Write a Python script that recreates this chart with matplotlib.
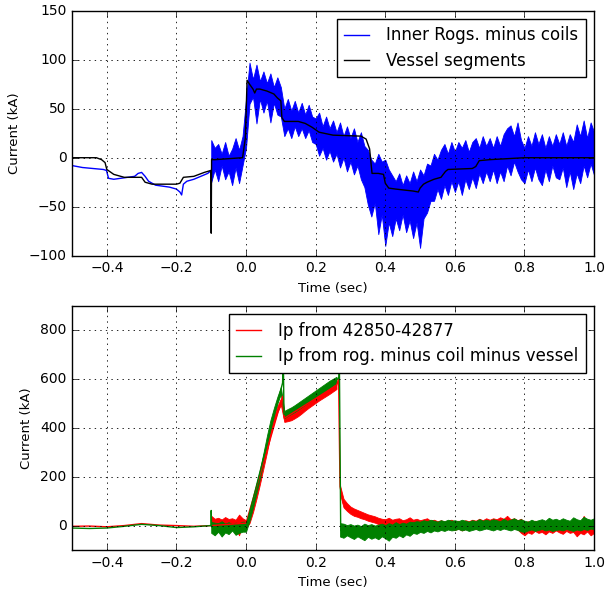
import numpy as np
import matplotlib
matplotlib.use("Agg")
import matplotlib.pyplot as plt

plt.style.use("classic")

# ---------------- data: top panel ----------------
# quiet part of the "Inner Rogs. minus coils" trace
blue_q_t = [-0.50, -0.47, -0.44, -0.41, -0.401, -0.395, -0.38, -0.36, -0.34, -0.32, -0.31, -0.30, -0.29,
            -0.28, -0.26, -0.24, -0.22, -0.20, -0.19, -0.185, -0.18, -0.17, -0.15, -0.13, -0.11, -0.10]
blue_q_i = [-8, -10, -11, -12, -13, -21, -22, -21, -20, -19, -16, -15, -19,
            -24, -28, -29, -30, -32, -35, -38, -27, -24, -22, -19, -16, -13]

# time grid for the noisy parts (-0.10 ... 1.00 s)
t_band = np.round(np.linspace(-0.10, 1.00, 111), 2)

blue_hi = [18, 10, 14, 4, 16, 2, 9, 20, 8, 22,
           60, 97, 80, 95, 78, 88, 76, 86, 72, 82,
           72, 50, 60, 48, 58, 46, 56, 44, 54, 42,
           40, 46, 32, 42, 30, 38, 26, 36, 22, 32,
           20, 30, 16, 26, 12, 8, -2, -6, 4, -4,
           -2, -12, -18, -24, -16, -28, -18, -26, -14, -24,
           -12, -18, -6, -8, 4, -2, 8, 14, 4, 16,
           6, 16, 10, 18, 6, 16, 20, 10, 22, 12,
           20, 10, 22, 12, 24, 30, 33, 22, 36, 18,
           10, 22, 12, 26, 14, 24, 10, 22, 12, 24,
           14, 26, 12, 24, 16, 34, 22, 38, 20, 36, 26]
blue_lo = [-25, -12, -24, -8, -22, -14, -28, -10, -26, -8,
           10, 55, 62, 35, 60, 46, 58, 36, 56, 44,
           42, 22, 30, 20, 32, 22, 30, 20, 28, 16,
           14, 2, 10, -2, 7, -4, 4, -10, 0, -14,
           -4, -17, -8, -22, -30, -48, -60, -46, -78, -58,
           -90, -66, -80, -62, -74, -58, -76, -64, -82, -66,
           -92, -62, -56, -44, -44, -32, -42, -28, -38, -24,
           -35, -24, -38, -22, -32, -20, -31, -16, -26, -14,
           -24, -12, -26, -14, -24, -8, -18, -4, -14, -22,
           -26, -12, -24, -10, -22, -28, -12, -24, -8, -20,
           -22, -10, -30, -14, -32, -16, -26, -8, -20, -6, -18]

vessel_t = [-0.5, -0.43, -0.415, -0.405, -0.40, -0.38, -0.35, -0.30, -0.29, -0.27, -0.20, -0.19,
            -0.18, -0.15, -0.12, -0.101, -0.100, -0.099, -0.09, -0.01, -0.002, 0.003, 0.01,
            0.02, 0.025, 0.03, 0.04, 0.06, 0.08, 0.09, 0.10, 0.103, 0.11, 0.15, 0.17, 0.19,
            0.21, 0.25, 0.33, 0.345, 0.355, 0.362, 0.38, 0.395, 0.40, 0.41, 0.43, 0.48, 0.495,
            0.50, 0.51, 0.52, 0.54, 0.56, 0.573, 0.58, 0.65, 0.66, 0.67, 0.70, 0.80, 1.0]
vessel_i = [0, 0, -2, -5, -12, -17, -20, -20, -25, -27, -27, -26,
            -20, -19, -15, -13, -77, -2, -2, 0, 20, 79, 75,
            70, 66, 70, 70, 68, 65, 61, 58, 41, 37, 37, 35, 31,
            26, 23, 22, 19, 9, -16, -16, -17, -26, -31, -32, -34, -35,
            -31, -27, -25, -22, -20, -14, -12, -11, -9, -3, -2, 0, 0]

# ---------------- data: bottom panel ----------------
red_t = [-0.5, -0.45, -0.4, -0.35, -0.3, -0.25, -0.2, -0.15, -0.1, 0.0, 0.1, 0.105, 0.11,
         0.26, 0.266, 0.27, 0.28]
red_i = [-3, -2, -5, 0, 8, 2, 0, -3, 0, 10, 505, 530, 440,
         575, 600, 160, 90]

red_hi = [40, 28, 32, 25, 35, 27, 30, 24, 45, 30,
          22, 40, 85, 140, 200, 265, 335, 400, 450, 490,
          520, 455, 458, 462, 470, 479, 490, 502, 513, 523,
          533, 543, 552, 561, 570, 580, 590, 165, 110, 92,
          78, 70, 64, 58, 52, 46, 42, 38, 32, 28,
          26, 32, 24, 28, 30, 22, 26, 34, 24, 28,
          22, 26, 30, 20, 24, 18, 22, 16, 20, 24,
          16, 20, 14, 22, 18, 24, 20, 28, 22, 30,
          24, 30, 26, 34, 28, 40, 26, 30, 22, 28,
          12, 18, 8, 20, 14, 10, 16, 8, 14, 10,
          12, 6, 16, 10, 14, 24, 8, 40, 12, 18, 10]
red_lo = [0, -25, 2, -15, 5, -5, 0, -10, -40, 5,
          -10, 10, 55, 110, 170, 235, 300, 370, 420, 465,
          495, 425, 428, 432, 440, 449, 460, 472, 483, 493,
          503, 513, 522, 531, 540, 550, 560, 130, 75, 60,
          48, 40, 36, 30, 26, 20, 16, 12, 6, 2,
          -4, 0, -6, -2, -8, 0, -4, -10, -2, -6,
          -10, -4, -8, -14, -6, -12, -8, -16, -10, -14,
          -18, -12, -20, -14, -16, -10, -14, -8, -12, -4,
          -8, -2, -10, 0, -6, 4, -4, -10, -16, -30,
          -40, -28, -34, -22, -30, -26, -36, -24, -30, -20,
          -28, -34, -22, -30, -26, -44, -30, -36, -24, -40, -30]

green_t = [-0.5, -0.45, -0.4, -0.35, -0.3, -0.25, -0.2, -0.15, -0.1005, -0.1, -0.099, 0.0,
           0.105, 0.107, 0.109, 0.11, 0.26, 0.267, 0.268, 0.272, 0.28]
green_i = [-10, -12, -10, -3, 5, 0, -8, -5, 0, 62, -5, -5,
           585, 700, 460, 455, 598, 605, 700, -20, -20]

green_hi = [15, 12, 10, 18, 8, 14, 6, 12, 10, 16,
            15, 55, 110, 170, 230, 298, 368, 432, 482, 528,
            568, 470, 478, 485, 494, 504, 514, 524, 534, 544,
            554, 564, 574, 584, 594, 602, 610, 10, 8, 2,
            6, 0, 4, -2, 8, 2, 6, 0, 4, 8,
            2, 10, 4, 14, 6, 12, 8, 16, 14, 18,
            16, 22, 18, 24, 20, 16, 22, 18, 24, 20,
            22, 18, 24, 20, 16, 22, 18, 26, 20, 24,
            20, 26, 22, 18, 28, 20, 24, 30, 22, 26,
            20, 16, 24, 18, 22, 26, 20, 32, 24, 28,
            22, 30, 24, 20, 34, 26, 22, 36, 28, 24, 30]
green_lo = [-30, -40, -25, -45, -28, -35, -20, -38, -30, -25,
            -25, 20, 75, 135, 195, 262, 335, 400, 455, 500,
            540, 440, 450, 458, 466, 476, 486, 496, 506, 516,
            526, 536, 546, 556, 566, 576, 586, -45, -50, -40,
            -48, -55, -44, -52, -60, -46, -54, -48, -56, -44,
            -52, -62, -46, -50, -40, -48, -36, -42, -30, -34,
            -26, -30, -22, -28, -20, -24, -18, -22, -16, -20,
            -18, -14, -20, -16, -22, -18, -14, -20, -16, -12,
            -16, -20, -14, -18, -12, -16, -20, -14, -18, -24,
            -26, -20, -16, -22, -18, -14, -20, -16, -22, -18,
            -16, -20, -14, -18, -22, -16, -20, -14, -18, -12, -16]

top_labels = ["Inner Rogs. minus coils", "Vessel segments"]
bot_labels = ["Ip from 42850-42877", "Ip from rog. minus coil minus vessel"]

# ---------------- figure ----------------
fig = plt.figure(figsize=(6.05, 5.92), dpi=100, facecolor="white")
ax1 = fig.add_axes([0.119, 0.568, 0.863, 0.414])
ax2 = fig.add_axes([0.119, 0.071, 0.863, 0.412])

split = 37  # index of first point after the 0.267 s drop

legend_kw = dict(loc="upper right", fontsize=12, fancybox=False, handlelength=1.5,
                 handletextpad=1.0, numpoints=1, borderpad=0.45, labelspacing=0.45,
                 borderaxespad=0.5)

# top panel
lb, = ax1.plot(blue_q_t, blue_q_i, color="b", lw=1.0, label=top_labels[0])
ax1.fill_between(t_band, blue_lo, blue_hi, color="b", lw=0.6, edgecolor="b")
lk, = ax1.plot(vessel_t, vessel_i, color="k", lw=1.0, label=top_labels[1])
ax1.set_xlim(-0.5, 1.0)
ax1.set_ylim(-100, 150)
ax1.set_yticks([-100, -50, 0, 50, 100, 150])
ax1.grid(True, color="k", linestyle=":", linewidth=0.6)
ax1.set_xlabel("Time (sec)", fontsize=9.5)
ax1.set_ylabel("Current (kA)", fontsize=9.5)
ax1.tick_params(labelsize=10)
ax1.legend(handles=[lb, lk], **legend_kw)

# bottom panel
lr, = ax2.plot(red_t, red_i, color="r", lw=1.0, label=bot_labels[0])
ax2.fill_between(t_band[:split], red_lo[:split], red_hi[:split], color="r", lw=0.6, edgecolor="r")
ax2.fill_between(t_band[split:], red_lo[split:], red_hi[split:], color="r", lw=0.6, edgecolor="r")
lg, = ax2.plot(green_t, green_i, color="g", lw=1.0, label=bot_labels[1])
ax2.fill_between(t_band[:split], green_lo[:split], green_hi[:split], color="g", lw=0.6, edgecolor="g")
ax2.fill_between(t_band[split:], green_lo[split:], green_hi[split:], color="g", lw=0.6, edgecolor="g")
ax2.set_xlim(-0.5, 1.0)
ax2.set_ylim(-100, 900)
ax2.set_yticks([0, 200, 400, 600, 800])
ax2.grid(True, color="k", linestyle=":", linewidth=0.6)
ax2.set_xlabel("Time (sec)", fontsize=9.5)
ax2.set_ylabel("Current (kA)", fontsize=9.5)
ax2.tick_params(labelsize=10)
leg2 = ax2.legend(handles=[lr, lg], **legend_kw)
leg2.set_zorder(10)

fig.savefig("out.png", dpi=100, facecolor="white")
